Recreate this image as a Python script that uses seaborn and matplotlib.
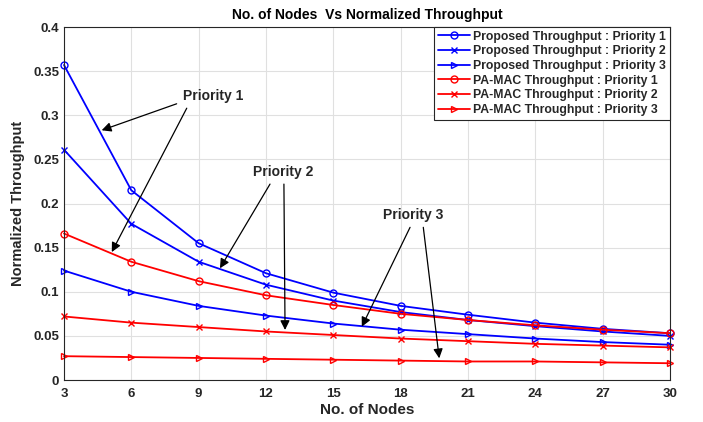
import matplotlib
matplotlib.use("Agg")
import matplotlib.pyplot as plt
import seaborn as sns
import pandas as pd

nodes = [3, 6, 9, 12, 15, 18, 21, 24, 27, 30]
prop_p1 = [0.357, 0.215, 0.155, 0.121, 0.099, 0.084, 0.074, 0.065, 0.058, 0.053]
prop_p2 = [0.261, 0.177, 0.134, 0.108, 0.090, 0.077, 0.068, 0.061, 0.055, 0.050]
prop_p3 = [0.124, 0.100, 0.084, 0.073, 0.064, 0.057, 0.052, 0.047, 0.043, 0.040]
pamac_p1 = [0.166, 0.134, 0.112, 0.096, 0.085, 0.075, 0.068, 0.062, 0.057, 0.053]
pamac_p2 = [0.072, 0.065, 0.060, 0.055, 0.051, 0.047, 0.044, 0.041, 0.039, 0.037]
pamac_p3 = [0.027, 0.026, 0.025, 0.024, 0.023, 0.022, 0.021, 0.021, 0.020, 0.019]

labels = ["Proposed Throughput : Priority 1", "Proposed Throughput : Priority 2",
          "Proposed Throughput : Priority 3", "PA-MAC Throughput : Priority 1",
          "PA-MAC Throughput : Priority 2", "PA-MAC Throughput : Priority 3"]
series = [prop_p1, prop_p2, prop_p3, pamac_p1, pamac_p2, pamac_p3]
colors = ["#0000ff"] * 3 + ["#ff0000"] * 3
markers = ["o", "x", ">"] * 2

sns.set_theme(style="whitegrid")
plt.rcParams['font.family'] = ['Liberation Sans', 'DejaVu Sans']
plt.rcParams['font.weight'] = 'bold'

fig = plt.figure(figsize=(7.03, 4.22), dpi=100)
ax = fig.add_axes([0.091, 0.0995, 0.862, 0.8365])

for vals, lab, c, m in zip(series, labels, colors, markers):
    df = pd.DataFrame({"x": nodes, "y": vals})
    sns.lineplot(data=df, x="x", y="y", ax=ax, color=c, marker=m, label=lab,
                 linewidth=1.3, markersize=5, markerfacecolor="none",
                 markeredgecolor=c, markeredgewidth=1.0, clip_on=False, zorder=3)

ax.set_xlim(3, 30)
ax.set_ylim(0, 0.4)
ax.set_xticks(nodes)
yt = [0, 0.05, 0.1, 0.15, 0.2, 0.25, 0.3, 0.35, 0.4]
ax.set_yticks(yt)
ax.set_yticklabels(["0", "0.05", "0.1", "0.15", "0.2", "0.25", "0.3", "0.35", "0.4"])
ax.tick_params(axis="both", labelsize=9.5, direction="in", length=4, colors="#262626",
               labelcolor="#262626")
ax.tick_params(axis="x", pad=6)
for lbl in ax.get_xticklabels() + ax.get_yticklabels():
    lbl.set_fontweight("bold")
ax.grid(True, color="#e0e0e0", linewidth=0.8)
for s in ax.spines.values():
    s.set_visible(True)
    s.set_color("#262626")
    s.set_linewidth(0.8)
    s.set_zorder(4)
ax.set_facecolor("white")

ax.set_xlabel("No. of Nodes", fontsize=11, fontweight="bold", color="#262626", labelpad=2)
ax.set_ylabel("Normalized Throughput", fontsize=10.5, fontweight="bold", color="#262626", labelpad=6)
ax.set_title("No. of Nodes  Vs Normalized Throughput", fontsize=10, fontweight="bold",
             color="black", pad=6)

leg = ax.legend(loc="upper right", fontsize=8.8, frameon=True, fancybox=False,
                edgecolor="#262626", framealpha=1, borderpad=0.3, labelspacing=0.22,
                handlelength=2.6, handletextpad=0.3, borderaxespad=0.0)
leg.get_frame().set_linewidth(0.8)
leg.set_zorder(5)
for t in leg.get_texts():
    t.set_fontweight("bold")

arrow = dict(arrowstyle="-|>", color="black", lw=0.9, mutation_scale=14, shrinkA=0, shrinkB=0)
txt = dict(fontsize=10, fontweight="bold", ha="center", va="center")
ax.text(9.64, 0.322, "Priority 1", **txt)
ax.annotate("", xy=(4.68, 0.283), xytext=(8.02, 0.313), arrowprops=arrow)
ax.annotate("", xy=(5.13, 0.145), xytext=(8.47, 0.308), arrowprops=arrow)
ax.text(12.76, 0.236, "Priority 2", **txt)
ax.annotate("", xy=(9.95, 0.1266), xytext=(12.18, 0.222), arrowprops=arrow)
ax.annotate("", xy=(12.85, 0.0567), xytext=(12.8, 0.222), arrowprops=arrow)
ax.text(18.55, 0.187, "Priority 3", **txt)
ax.annotate("", xy=(16.27, 0.0604), xytext=(18.42, 0.173), arrowprops=arrow)
ax.annotate("", xy=(19.72, 0.0246), xytext=(19.01, 0.173), arrowprops=arrow)

fig.savefig("out.png", dpi=100)
